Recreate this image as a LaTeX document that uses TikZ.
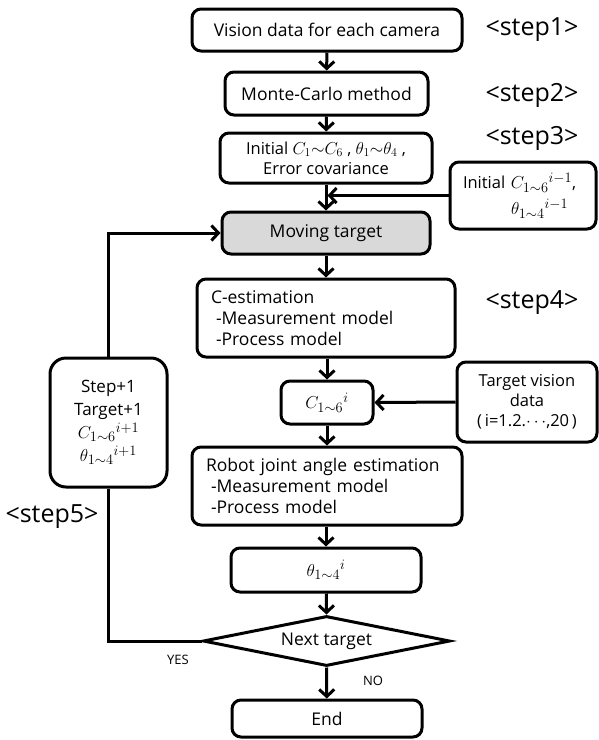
\documentclass[tikz,border=0pt]{standalone}
\usepackage{fontspec}
\setmainfont{Open Sans}
\usetikzlibrary{arrows.meta,shapes.geometric}
% math set a little larger than the surrounding text
\newcommand\bigmath[1]{{\fontsize{19}{21}\selectfont\(#1\)}}
\begin{document}
\begin{tikzpicture}[x=1pt,y=-1pt,
  box/.style={draw, line width=3pt, rounded corners=9pt, inner sep=0pt,
              font=\fontsize{17.5}{21}\selectfont, align=center},
  arr/.style={line width=3pt, -{Straight Barb[length=7pt,width=15pt]}},
  link/.style={line width=3pt},
  steplabel/.style={font=\fontsize{25}{28}\selectfont, inner sep=0pt},
  answer/.style={font=\fontsize{13}{15}\selectfont, inner sep=0pt}
]
\useasboundingbox (0,0) rectangle (598,740);

% main column
\node[box, minimum width=270pt, minimum height=42pt] (vis) at (327,30)
  {Vision data for each camera};
\node[box, minimum width=203pt, minimum height=43pt] (mc) at (326.5,93.5)
  {Monte-Carlo method};
\node[box, minimum width=212pt, minimum height=50pt, font=\fontsize{16.5}{20}\selectfont] (init) at (326,158)
  {Initial \(C_{1}{\sim}C_{6}\) , \(\theta_{1}{\sim}\theta_{4}\) ,\\ Error covariance};
\node[box, minimum width=208pt, minimum height=42pt, fill=black!15] (move) at (326,233)
  {Moving target};
\node[box, minimum width=258pt, minimum height=78pt, text width=230pt, align=left] (cest) at (326,318)
  {C-estimation\\\hspace*{5pt}-Measurement model\\\hspace*{5pt}-Process model};
\node[box, minimum width=92pt, minimum height=43pt] (cvec) at (327,402.5)
  {\bigmath{{C_{1\sim6}}^{i}}};
\node[box, minimum width=270pt, minimum height=78pt, text width=242pt, align=left] (robot) at (327,486)
  {Robot joint angle estimation\\\hspace*{5pt}-Measurement model\\\hspace*{5pt}-Process model};
\node[box, minimum width=190pt, minimum height=44pt] (theta) at (326,570)
  {\bigmath{{\theta_{1\sim4}}^{i}}};
\node[draw, line width=3pt, shape=diamond, inner sep=0pt, aspect=4.9,
      minimum width=247pt, minimum height=50pt, font=\fontsize{17.5}{21}\selectfont] (next) at (326.5,641)
  {Next target};
\node[box, minimum width=190pt, minimum height=37pt] (end) at (327,718.5)
  {End};

% side boxes
\node[box, minimum width=146pt, minimum height=67pt, text width=120pt, align=left,
      font=\fontsize{16.5}{26}\selectfont] (prev) at (523,195.5)
  {Initial \bigmath{{C_{1\sim6}}^{i-1}},\\\hspace*{48pt}\bigmath{{\theta_{1\sim4}}^{i-1}}};
\node[box, minimum width=140pt, minimum height=80pt, font=\fontsize{16.5}{20}\selectfont] (tvd) at (527,402)
  {Target vision\\data\\(\,i=1.2.\(\cdots\),20\,)};
\node[box, minimum width=117pt, minimum height=129pt, rounded corners=16pt,
      font=\fontsize{17}{23}\selectfont] (upd) at (108.5,422.5)
  {Step+1\\Target+1\\\bigmath{{C_{1\sim6}}^{i+1}}\\\bigmath{{\theta_{1\sim4}}^{i+1}}};

% step labels
\node[steplabel] (s1) at (532,30) {<step1>};
\node[steplabel] (s2) at (532,95) {<step2>};
\node[steplabel] (s3) at (532,138) {<step3>};
\node[steplabel] (s4) at (532,303) {<step4>};
\node[steplabel] (s5) at (52,517) {<step5>};

% connectors
\draw[arr] (vis) -- (mc);
\draw[arr] (mc) -- (init);
\draw[arr] (init) -- (move);
\draw[arr, shorten >=1.5pt] (prev.west) -- (prev.west -| move.north);
\draw[arr] (move) -- (cest);
\draw[arr] (cest.south -| cvec.north) -- (cvec);
\draw[arr] (tvd.west) -- (cvec.east);
\draw[arr] (cvec) -- (robot.north -| cvec.south);
\draw[arr] (robot.south -| theta.north) -- (theta);
\draw[arr] (theta) -- (next.north);
\draw[arr] (next.south) -- (end);
\draw[link] (next.west) -| (upd.south);
\draw[arr] (upd.north) |- (move.west);

% branch labels
\node[answer] (yes) at (178,660) {YES};
\node[answer] (no) at (373,681) {NO};
\end{tikzpicture}
\end{document}
